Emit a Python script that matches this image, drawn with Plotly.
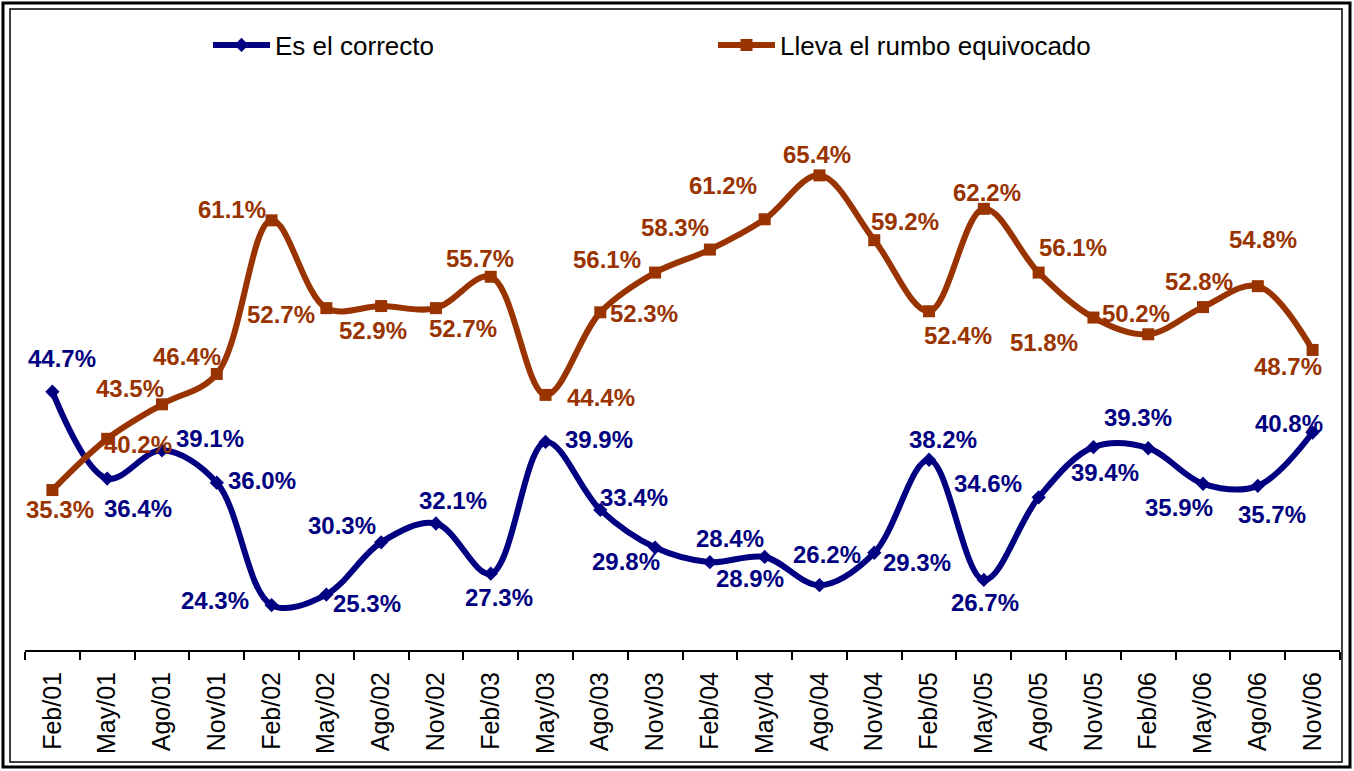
import plotly.graph_objects as go

# Periods (quarterly survey)
PERIODS = ["Feb/01", "May/01", "Ago/01", "Nov/01", "Feb/02", "May/02", "Ago/02", "Nov/02",
           "Feb/03", "May/03", "Ago/03", "Nov/03", "Feb/04", "May/04", "Ago/04", "Nov/04",
           "Feb/05", "May/05", "Ago/05", "Nov/05", "Feb/06", "May/06", "Ago/06", "Nov/06"]

CORRECTO = [44.7, 36.4, 39.1, 36.0, 24.3, 25.3, 30.3, 32.1, 27.3, 39.9, 33.4, 29.8,
            28.4, 28.9, 26.2, 29.3, 38.2, 26.7, 34.6, 39.4, 39.3, 35.9, 35.7, 40.8]

EQUIVOCADO = [35.3, 40.2, 43.5, 46.4, 61.1, 52.7, 52.9, 52.7, 55.7, 44.4, 52.3, 56.1,
              58.3, 61.2, 65.4, 59.2, 52.4, 62.2, 56.1, 51.8, 50.2, 52.8, 54.8, 48.7]

# label offsets from their point, in px (right, down) - style only
OFF_CORRECTO = [(10, -33), (31, 30), (48, -12), (45, -2), (-57, -5), (41, 9),
                (-39, -17), (17, -23), (8, 24), (53, -2), (34, -12), (-29, 14),
                (20, -24), (-15, 22), (8, -31), (43, 10), (14, -20), (1, 23),
                (-51, -14), (12, 25), (-10, -31), (-24, 24), (14, 29), (-24, -9)]

OFF_EQUIVOCADO = [(8, 19), (31, 6), (-32, -16), (-30, -18), (-40, -11), (-45, 6),
                  (-8, 24), (27, 20), (-11, -18), (55, 3), (44, 1), (-48, -13),
                  (-35, -22), (-42, -34), (-2, -21), (31, -19), (29, 24), (3, -16),
                  (34, -25), (-49, 25), (-12, -21), (-4, -26), (5, -47), (-25, 17)]

BLUE = "#000080"
BROWN = "#993300"
FONT = "Arial, Liberation Sans, sans-serif"

W, H = 1354, 771
L, R, T, B = 25, 14, 75, 121
PW, PH = W - L - R, H - T - B


def px_x(x):
    return (x - L) / PW


def px_y(y):
    return (H - B - y) / PH


fig = go.Figure()

fig.add_trace(go.Scatter(
    x=PERIODS, y=CORRECTO, name="Es el correcto",
    mode="lines+markers",
    line=dict(color=BLUE, width=6, shape="spline", smoothing=1),
    marker=dict(symbol="diamond", size=11, color=BLUE),
    legend="legend",
))

fig.add_trace(go.Scatter(
    x=PERIODS, y=EQUIVOCADO, name="Lleva el rumbo equivocado",
    mode="lines+markers",
    line=dict(color=BROWN, width=6, shape="spline", smoothing=1),
    marker=dict(symbol="square", size=12, color=BROWN),
    legend="legend2",
))

# data labels
for values, offsets, color in [(CORRECTO, OFF_CORRECTO, BLUE), (EQUIVOCADO, OFF_EQUIVOCADO, BROWN)]:
    for cat, v, (dx, dy) in zip(PERIODS, values, offsets):
        fig.add_annotation(
            x=cat, y=v, text=f"{v:.1f}%", showarrow=False,
            xanchor="center", yanchor="middle", xshift=dx, yshift=-dy,
            font=dict(family=FONT, size=24, color=color, weight="bold"),
        )

legend_common = dict(
    orientation="h", yanchor="middle", xanchor="left",
    font=dict(family=FONT, size=26, color="black"),
    bgcolor="rgba(0,0,0,0)", itemwidth=57,
)

fig.update_layout(
    width=W, height=H,
    margin=dict(l=L, r=R, t=T, b=B),
    paper_bgcolor="white", plot_bgcolor="white",
    font=dict(family=FONT, color="black"),
    showlegend=True,
    legend=dict(x=px_x(208), y=px_y(45), **legend_common),
    legend2=dict(x=px_x(713), y=px_y(45), **legend_common),
    xaxis=dict(
        type="category", range=[-0.5, len(PERIODS) - 0.5],
        showline=True, linecolor="black", linewidth=2,
        ticks="outside", tickson="boundaries", ticklen=8, tickwidth=2, tickcolor="black",
        tickangle=-90, tickfont=dict(family=FONT, size=25, color="black"),
        ticklabelstandoff=10,
        showgrid=False, zeroline=False,
    ),
    yaxis=dict(range=[20, 75], visible=False, showgrid=False, zeroline=False),
    shapes=[
        dict(type="rect", xref="paper", yref="paper",
             x0=px_x(3), x1=px_x(1350), y0=px_y(767), y1=px_y(3),
             line=dict(color="black", width=3)),
        dict(type="rect", xref="paper", yref="paper",
             x0=px_x(10), x1=px_x(1342), y0=px_y(762), y1=px_y(9),
             line=dict(color="black", width=1.5)),
    ],
)

fig.write_html("out.html", config={"displayModeBar": False},
               post_script="document.body.style.margin='0px';")
